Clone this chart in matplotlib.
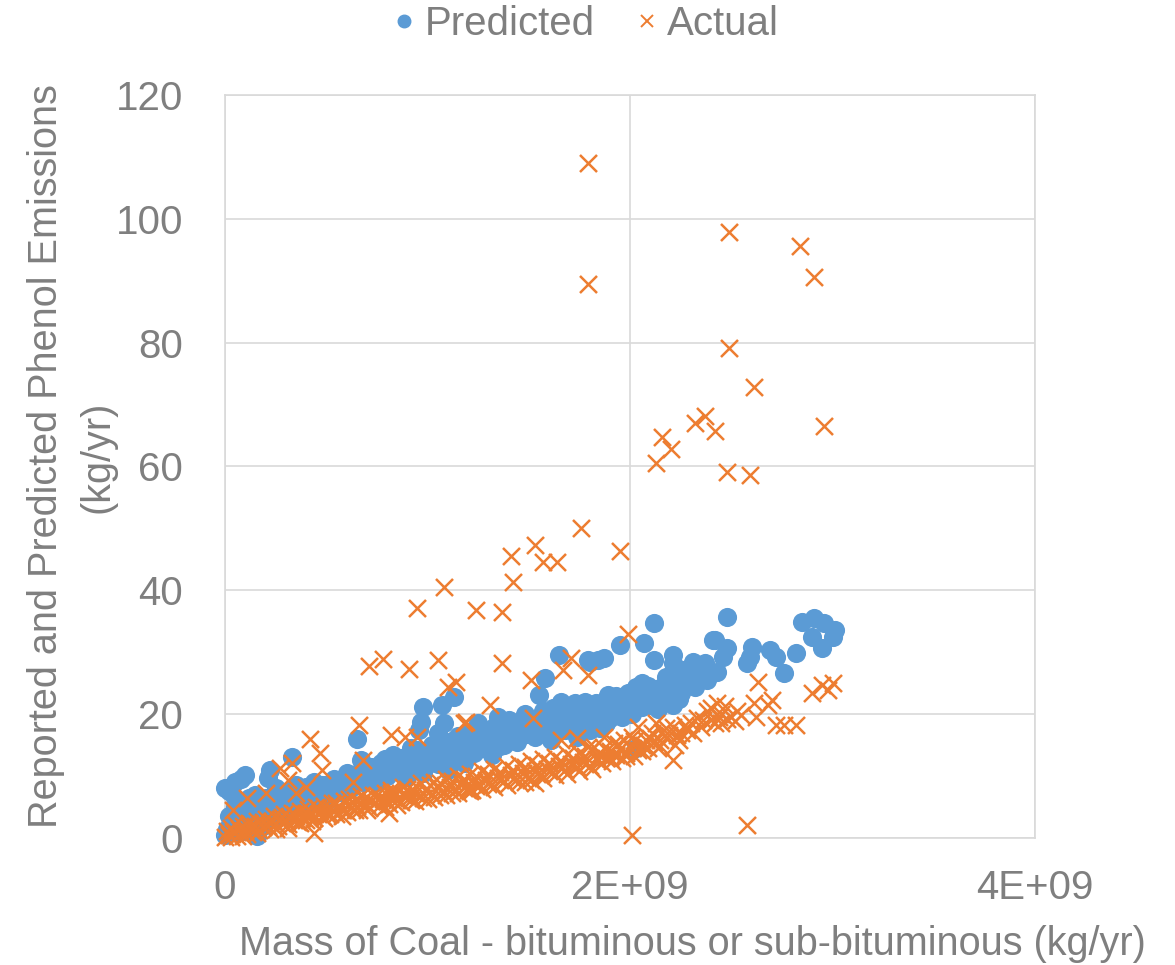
import matplotlib.pyplot as plt
import numpy as np
from matplotlib.lines import Line2D
from matplotlib.ticker import FixedLocator, FuncFormatter

# coal mass in units of 1E+09 kg/yr, emissions in kg/yr
predicted = [
    (0.00, 0.5), (0.01, 1.5), (0.02, 3.5), (0.00, 8.1), (0.02, 7.6), (0.05, 9.0), (0.08, 9.6),
    (0.10, 10.2), (0.03, 2.5), (0.04, 1.0), (0.05, 5.0), (0.06, 3.0), (0.07, 2.0), (0.08, 4.0),
    (0.09, 1.2), (0.10, 3.5), (0.11, 1.3), (0.12, 5.5), (0.13, 2.5), (0.14, 4.0), (0.15, 4.5),
    (0.16, 0.3), (0.17, 3.0), (0.18, 5.8), (0.19, 2.0), (0.20, 4.5), (0.21, 9.7), (0.22, 11.0),
    (0.23, 6.0), (0.24, 3.5), (0.25, 5.0), (0.26, 7.0), (0.27, 4.5), (0.28, 6.1), (0.29, 3.8),
    (0.30, 5.5), (0.31, 7.5), (0.32, 4.5), (0.33, 13.1), (0.34, 6.5), (0.35, 5.0), (0.36, 7.8),
    (0.37, 5.5), (0.38, 6.1), (0.40, 7.0), (0.41, 5.8), (0.42, 8.0), (0.44, 9.0), (0.45, 6.5),
    (0.46, 7.5), (0.48, 8.5), (0.50, 7.0), (0.51, 6.1), (0.52, 8.0), (0.54, 9.5), (0.56, 9.0),
    (0.57, 7.5), (0.58, 8.2), (0.60, 9.0), (0.62, 8.0), (0.63, 9.9), (0.65, 16.0), (0.66, 10.5),
    (0.67, 12.6), (0.68, 9.0), (0.70, 10.0), (0.72, 11.5), (0.73, 9.4), (0.75, 10.5), (0.77, 12.1),
    (0.78, 11.0), (0.80, 10.0), (0.81, 10.5), (0.83, 13.4), (0.84, 11.5), (0.86, 10.8), (0.88, 11.5),
    (0.90, 9.9), (0.92, 12.0), (0.95, 14.2), (0.95, 11.8), (0.96, 17.4), (0.97, 18.7), (0.98, 21.2),
    (0.98, 10.5), (1.00, 12.5), (1.01, 12.1), (1.03, 13.0), (1.05, 17.0), (1.06, 14.2), (1.07, 21.5),
    (1.08, 18.6), (1.10, 11.0), (1.11, 13.5), (1.13, 22.8), (1.13, 15.8), (1.13, 12.6), (1.15, 14.0),
    (1.18, 12.1), (1.20, 15.3), (1.22, 14.0), (1.23, 13.7), (1.25, 16.3), (1.27, 14.5), (1.30, 15.3),
    (1.32, 13.4), (1.34, 16.0), (1.37, 17.8), (1.38, 15.0), (1.40, 19.1), (1.42, 16.5), (1.45, 16.3),
    (1.47, 18.6), (1.50, 17.0), (1.53, 16.3), (1.54, 19.1), (1.55, 23.1), (1.58, 25.8), (1.60, 19.5),
    (1.61, 15.8), (1.63, 18.0), (1.65, 29.6), (1.66, 22.0), (1.68, 17.4), (1.70, 20.0), (1.73, 21.8),
    (1.74, 16.3), (1.76, 19.0), (1.78, 22.0), (1.79, 28.8), (1.80, 28.4), (1.80, 17.4), (1.81, 19.5),
    (1.83, 21.8), (1.84, 28.8), (1.84, 19.5), (1.87, 29.1), (1.89, 23.1), (1.90, 19.4), (1.92, 21.0),
    (1.94, 20.7), (1.95, 31.2), (1.97, 22.5), (1.99, 23.4), (2.00, 21.2), (2.03, 24.4), (2.03, 14.5),
    (2.05, 22.3), (2.06, 25.0), (2.06, 21.2), (2.07, 31.5), (2.08, 23.4), (2.12, 34.7), (2.12, 28.8),
    (2.15, 22.3), (2.16, 24.4), (2.16, 22.8), (2.20, 23.6), (2.21, 29.6), (2.21, 28.3), (2.21, 24.7),
    (2.21, 21.5), (2.25, 23.4), (2.26, 27.1), (2.26, 25.5), (2.31, 28.4), (2.32, 24.4), (2.32, 26.3),
    (2.37, 28.3), (2.41, 32.0), (2.42, 32.0), (2.43, 26.8), (2.46, 29.2), (2.48, 35.7), (2.48, 30.7),
    (2.58, 28.3), (2.59, 29.2), (2.60, 30.9), (2.69, 30.4), (2.72, 29.2), (2.76, 26.7), (2.82, 29.9),
    (2.85, 34.9), (2.90, 32.5), (2.91, 35.5), (2.95, 30.7), (2.96, 34.7), (3.00, 32.5), (3.01, 33.6),
    (1.15, 16.5), (1.20, 17.0), (1.25, 18.5), (1.28, 17.0), (1.33, 18.0), (1.35, 19.5), (1.43, 18.0),
    (1.48, 20.0), (1.52, 18.5), (1.57, 20.5), (1.62, 21.0), (1.67, 19.5), (1.72, 18.5), (1.77, 20.5),
    (1.86, 21.5), (1.88, 18.5), (1.93, 23.0), (1.96, 19.5), (2.01, 20.0), (2.10, 21.5), (2.13, 24.0),
    (2.18, 26.0), (2.23, 25.0), (2.28, 26.5), (2.35, 27.0), (2.38, 25.5), (0.55, 7.5), (0.65, 9.5),
    (0.75, 9.0), (0.85, 12.5), (0.87, 13.0), (0.92, 14.5), (1.02, 15.0), (1.05, 12.0), (1.17, 14.5),
    (0.45, 8.0), (0.35, 8.5), (0.25, 8.0), (0.15, 7.0), (0.12, 6.5),
    (1.22, 16.0), (1.26, 15.0), (1.31, 17.2), (1.36, 14.8), (1.41, 17.5), (1.44, 15.5), (1.49, 16.8),
    (1.56, 17.8), (1.59, 16.6), (1.64, 20.0), (1.69, 18.6), (1.75, 21.0), (1.82, 20.5), (1.85, 17.8),
    (1.91, 22.0), (1.98, 20.6), (2.02, 22.5), (2.09, 24.5), (2.14, 20.8), (2.19, 24.0), (2.24, 22.5),
    (2.29, 25.0), (2.34, 25.8), (0.60, 10.5), (0.70, 11.2), (0.79, 12.8), (0.89, 12.2), (0.93, 13.5),
    (1.04, 14.8), (1.09, 15.5), (0.50, 8.6), (0.40, 8.3), (0.30, 7.0), (0.20, 6.5), (0.10, 5.5),
    (0.05, 6.5),
]

actual = [
    # scattered high readings
    (1.79, 109.0), (1.79, 89.5), (2.49, 97.9), (2.84, 95.6), (2.91, 90.6), (2.49, 79.2),
    (2.61, 72.9), (2.96, 66.6), (2.37, 68.2), (2.32, 67.0), (2.42, 65.8), (2.16, 64.8),
    (2.20, 62.8), (2.13, 60.6), (2.48, 59.1), (2.59, 58.6), (1.76, 50.1), (1.95, 46.4),
    (1.53, 47.3), (1.41, 45.6), (1.57, 44.6), (1.64, 44.6), (1.42, 41.4), (1.08, 40.5),
    (0.95, 37.2), (1.24, 36.8), (1.37, 36.5), (1.99, 33.0), (1.71, 29.1), (1.67, 27.1),
    (1.79, 26.3), (1.37, 28.3), (0.78, 28.9), (0.71, 27.8), (0.91, 27.3), (1.05, 28.8),
    (1.10, 24.4), (1.14, 25.2), (1.51, 25.5), (1.31, 21.5), (0.66, 18.3), (0.42, 16.0),
    (2.01, 0.5), (2.58, 2.1), (2.63, 25.2), (2.43, 21.8), (2.61, 21.8), (2.70, 22.3),
    (2.68, 21.5), (2.62, 19.5), (2.44, 19.5), (2.48, 19.2), (2.72, 18.3), (2.76, 18.3),
    (2.82, 18.3), (2.90, 23.4), (2.95, 24.7), (3.00, 25.0), (2.98, 23.9), (2.21, 12.6),
    (2.04, 17.9), (2.13, 18.6), (2.16, 17.1), (2.21, 17.9), (2.25, 17.0), (2.30, 18.6),
    (2.33, 19.4), (1.87, 16.3), (1.92, 15.3), (1.97, 15.8), (1.82, 14.7), (2.01, 16.3),
    (2.08, 15.8), (2.11, 17.0), (2.18, 17.8), (2.07, 15.0), (2.15, 15.8), (2.22, 15.0),
    (1.52, 19.4), (1.19, 18.7), (1.18, 18.6), (0.82, 16.6), (0.89, 16.3), (0.95, 16.3),
    (0.47, 13.7), (0.48, 11.0), (0.33, 12.1), (0.27, 11.3), (0.31, 9.4), (0.40, 8.2),
    (0.20, 7.3), (0.11, 6.5), (0.04, 4.5), (0.44, 0.8), (0.81, 4.0), (0.82, 7.3),
    (0.68, 12.6), (0.63, 9.0), (1.20, 7.8), (1.48, 9.0), (1.53, 8.9), (1.22, 7.8),
    (1.66, 15.8), (1.74, 16.2), (1.79, 14.7), (0.35, 7.3),
    (2.38, 20.5), (2.40, 21.0), (2.45, 20.0), (2.47, 21.3),
    # main band
    (0.00, 0.2), (0.01, 1.1), (0.02, 0.5), (0.03, 1.6), (0.03, 0.1), (0.04, 0.9), (0.05, 2.2),
    (0.06, 0.4), (0.07, 1.4), (0.08, 0.8), (0.09, 2.0), (0.10, 1.2), (0.11, 0.6), (0.12, 2.4),
    (0.13, 1.5), (0.14, 0.9), (0.15, 1.9), (0.16, 2.8), (0.17, 1.3), (0.18, 2.3), (0.19, 1.7),
    (0.20, 3.1), (0.21, 2.0), (0.22, 1.5), (0.23, 2.7), (0.24, 3.5), (0.25, 2.2), (0.26, 1.9),
    (0.27, 3.0), (0.28, 2.5), (0.29, 3.8), (0.30, 2.8), (0.31, 2.2), (0.32, 3.4), (0.33, 4.1),
    (0.34, 2.9), (0.35, 3.6), (0.36, 2.6), (0.37, 4.4), (0.38, 3.2), (0.39, 3.9), (0.40, 2.9),
    (0.41, 4.7), (0.42, 3.5), (0.43, 4.1), (0.44, 3.2), (0.45, 5.0), (0.46, 3.8), (0.47, 4.4),
    (0.48, 3.5), (0.49, 5.2), (0.50, 4.1), (0.51, 3.7), (0.52, 4.8), (0.53, 5.6), (0.54, 4.3),
    (0.55, 3.9), (0.56, 5.1), (0.58, 4.6), (0.59, 5.9), (0.60, 4.2), (0.61, 5.4), (0.62, 4.9),
    (0.64, 6.2), (0.65, 5.1), (0.66, 4.6), (0.67, 5.7), (0.69, 6.5), (0.70, 5.3), (0.71, 4.9),
    (0.72, 6.0), (0.74, 5.6), (0.75, 6.9), (0.76, 5.2), (0.78, 6.3), (0.79, 7.2), (0.80, 5.9),
    (0.81, 5.5), (0.83, 6.7), (0.84, 7.5), (0.85, 6.2), (0.87, 5.8), (0.88, 7.0), (0.90, 7.9),
    (0.91, 6.5), (0.92, 6.1), (0.94, 7.3), (0.95, 8.2), (0.97, 6.8), (0.98, 6.4), (0.99, 7.7),
    (1.01, 8.5), (1.02, 7.1), (1.03, 6.6), (1.05, 8.0), (1.06, 8.9), (1.08, 7.4), (1.09, 6.9),
    (1.11, 8.3), (1.12, 9.2), (1.14, 7.8), (1.15, 7.2), (1.17, 8.7), (1.18, 9.6), (1.20, 8.1),
    (1.21, 7.6), (1.23, 9.0), (1.24, 10.0), (1.26, 8.5), (1.27, 7.9), (1.29, 9.4), (1.30, 10.3),
    (1.32, 8.8), (1.33, 8.3), (1.35, 9.7), (1.36, 10.7), (1.38, 9.2), (1.39, 8.6), (1.41, 10.1),
    (1.42, 11.0), (1.44, 9.5), (1.45, 9.0), (1.47, 10.5), (1.48, 11.4), (1.50, 9.9), (1.51, 9.3),
    (1.53, 10.8), (1.54, 11.8), (1.56, 10.3), (1.57, 9.7), (1.59, 11.2), (1.60, 12.1), (1.62, 10.6),
    (1.63, 10.1), (1.65, 11.6), (1.66, 12.5), (1.68, 11.0), (1.69, 10.4), (1.71, 11.9), (1.72, 12.9),
    (1.74, 11.4), (1.75, 10.8), (1.77, 12.3), (1.78, 13.2), (1.80, 11.7), (1.81, 11.2), (1.83, 12.7),
    (1.85, 13.6), (1.86, 12.1), (1.88, 13.0), (1.90, 14.0), (1.91, 12.5), (1.93, 13.4), (1.95, 14.3),
    (1.96, 12.9), (1.98, 13.8), (2.00, 14.7), (2.02, 13.3), (2.04, 14.2), (2.06, 15.1), (2.09, 14.6),
    (2.12, 15.5), (2.15, 14.9), (2.18, 16.2), (2.23, 16.6), (2.28, 17.4), (2.35, 18.0), (2.40, 19.0),
    (2.45, 18.6), (2.50, 19.6), (2.53, 20.5), (2.55, 19.8),
    (0.05, 0.9), (0.09, 0.3), (0.12, 1.7), (0.16, 0.8), (0.19, 2.6), (0.22, 2.4), (0.25, 1.4),
    (0.28, 3.4), (0.31, 1.6), (0.34, 3.8), (0.37, 2.4), (0.40, 4.1), (0.43, 2.8), (0.46, 4.9),
    (0.49, 3.2), (0.52, 3.9), (0.55, 5.6), (0.58, 3.6), (0.61, 6.3), (0.64, 4.5), (0.67, 6.8),
    (0.70, 4.5), (0.73, 6.9), (0.76, 6.5), (0.79, 5.0), (0.82, 7.8), (0.85, 5.4), (0.88, 8.3),
    (0.91, 7.4), (0.94, 6.0), (0.97, 8.9), (1.00, 6.3), (1.03, 9.1), (1.06, 7.0), (1.09, 9.6),
    (1.12, 7.2), (1.15, 10.0), (1.18, 8.0), (1.21, 10.4), (1.24, 8.4), (1.27, 10.9), (1.30, 8.7),
    (1.33, 11.1), (1.36, 9.3), (1.39, 11.6), (1.42, 9.5), (1.45, 12.0), (1.48, 10.0), (1.51, 12.4),
    (1.54, 10.4), (1.57, 12.7), (1.60, 10.9), (1.63, 13.1), (1.66, 11.3), (1.69, 13.5), (1.72, 11.8),
    (1.75, 13.8), (1.78, 12.0), (1.81, 14.3), (1.84, 12.6), (1.87, 14.6), (1.90, 12.9), (1.94, 15.2),
    (1.98, 13.2), (2.02, 15.6), (2.06, 14.0), (2.10, 16.1), (2.14, 14.5), (2.19, 16.6), (2.24, 15.8),
    (2.27, 18.2), (2.31, 16.9), (2.36, 19.0), (2.42, 18.6), (2.52, 18.9),
]

x_ticks = [0, 2e9, 4e9]
y_ticks = [0, 20, 40, 60, 80, 100, 120]

BLUE = '#5B9BD5'
ORANGE = '#ED7D31'
GREY = '#7F7F7F'
GRID = '#D9D9D9'

plt.rcParams['font.family'] = ['Liberation Sans', 'DejaVu Sans']

pred = np.array(predicted)
act = np.array(actual)

fig = plt.figure(figsize=(11.75, 9.65), dpi=100)
ax = fig.add_axes([0.1915, 0.1316, 0.6894, 0.77])

ax.scatter(pred[:, 0] * 1e9, pred[:, 1], s=190, color=BLUE, linewidths=0, zorder=3, clip_on=False)
ax.scatter(act[:, 0] * 1e9, act[:, 1], s=150, marker='x', color=ORANGE, linewidths=1.8, zorder=4,
           clip_on=False)

ax.set_xlim(0, 4e9)
ax.set_ylim(0, 120)
ax.xaxis.set_major_locator(FixedLocator(x_ticks))
ax.yaxis.set_major_locator(FixedLocator(y_ticks))
ax.xaxis.set_major_formatter(FuncFormatter(lambda v, p: '0' if v == 0 else '%dE+09' % round(v / 1e9)))
ax.grid(True, color=GRID, linewidth=1.2, zorder=0)
ax.set_axisbelow(True)
for side in ['left', 'bottom', 'top', 'right']:
    ax.spines[side].set_color(GRID)
    ax.spines[side].set_linewidth(1.2)
ax.tick_params(axis='both', length=0, labelsize=29, labelcolor=GREY)
ax.tick_params(axis='y', pad=30)
ax.tick_params(axis='x', pad=22)

fig.text(0.589, 0.022, 'Mass of Coal - bituminous or sub-bituminous (kg/yr)', fontsize=28.5,
         color=GREY, ha='center', va='center')
fig.text(0.061, 0.527, 'Reported and Predicted Phenol Emissions\n(kg/yr)', fontsize=28.5,
         color=GREY, ha='center', va='center', rotation=90, linespacing=1.45, multialignment='center')

handles = [
    Line2D([], [], linestyle='none', marker='o', markersize=9, color=BLUE, label='Predicted'),
    Line2D([], [], linestyle='none', marker='x', markersize=9, markeredgewidth=1.4, color=ORANGE,
           label='Actual'),
]
fig.legend(handles=handles, loc='upper center', bbox_to_anchor=(0.495, 1.032), ncol=2, frameon=False,
           fontsize=29, labelcolor=GREY, handletextpad=0.0, columnspacing=0.8, handlelength=1.0)

fig.savefig('out.png', dpi=100)
